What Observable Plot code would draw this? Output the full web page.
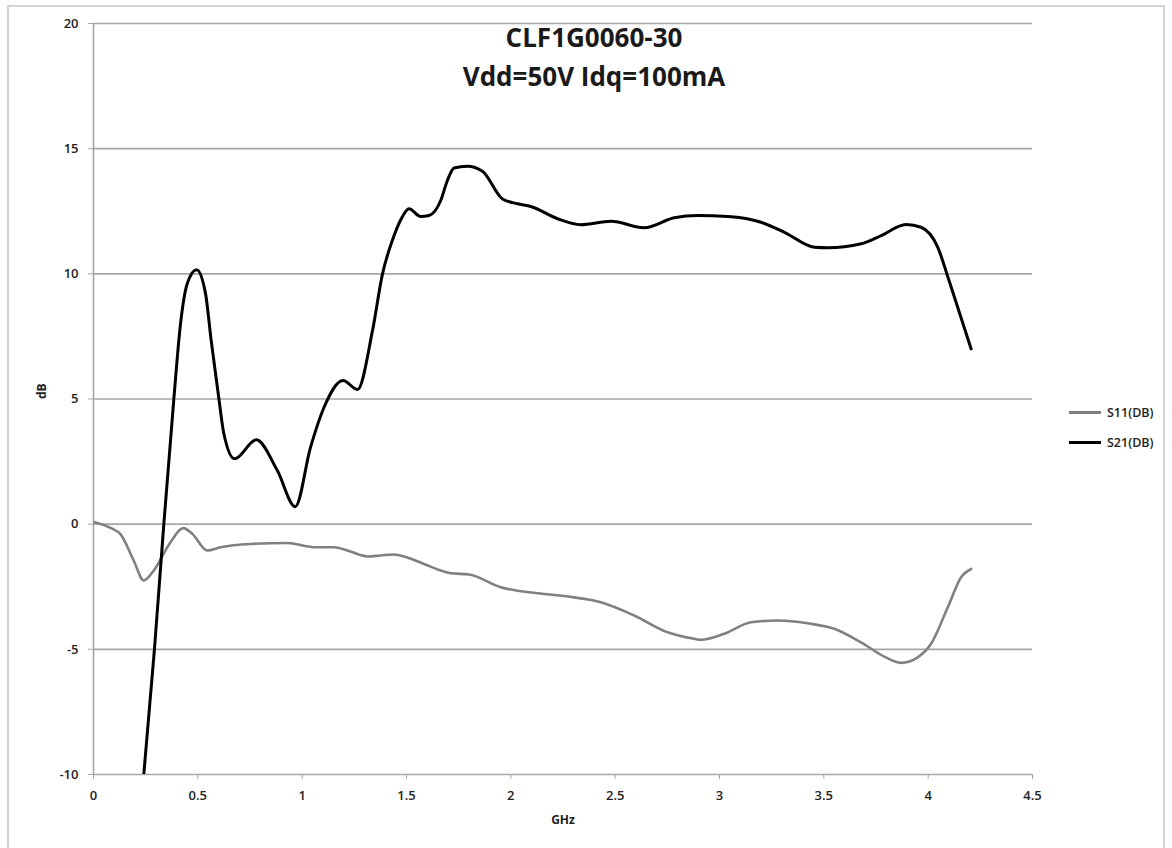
<!DOCTYPE html>
<html>
<head>
<meta charset="utf-8">
<script src="https://cdn.jsdelivr.net/npm/d3@7"></script>
<script src="https://cdn.jsdelivr.net/npm/@observablehq/plot@0.6"></script>
<style>
  html, body { margin: 0; padding: 0; background: #fff; }
  #wrap { position: relative; width: 1172px; height: 848px; overflow: hidden; font-family: "Open Sans", sans-serif; }
  #border { position: absolute; left: 7px; top: 5px; width: 1158px; height: 900px; border: 2px solid #d4d4d4; box-sizing: border-box; }
  #chart { position: absolute; left: 0; top: 0; }
  .title { position: absolute; left: 594px; transform: translateX(-50%); white-space: nowrap; font-weight: 700; font-size: 26px; color: #1a1a1a; }
  .leg { position: absolute; left: 1069px; font-size: 12.5px; font-weight: 600; color: #222; display: flex; align-items: center; }
  .leg span.sw { display: inline-block; width: 32px; margin-right: 6px; }
</style>
</head>
<body>
<div id="wrap">
  <div id="border"></div>
  <div id="chart"></div>
  <div class="title" style="top:19px">CLF1G0060-30</div>
  <div class="title" style="top:58px">Vdd=50V Idq=100mA</div>
  <div class="leg" style="top:404px"><span class="sw" style="border-top:3px solid #808080"></span>S11(DB)</div>
  <div class="leg" style="top:434px"><span class="sw" style="border-top:3px solid #000"></span>S21(DB)</div>
</div>
<script>
// S21(DB) series: frequency (GHz) and gain (dB)
const s21Freq = [0.241, 0.292, 0.337, 0.385, 0.417, 0.449, 0.494, 0.537, 0.564, 0.601, 0.625, 0.676, 0.78, 0.881, 0.967, 1.04, 1.105, 1.196, 1.265, 1.337, 1.385, 1.432, 1.475, 1.512, 1.568, 1.608, 1.664, 1.696, 1.728, 1.792, 1.864, 1.96, 2.032, 2.096, 2.224, 2.336, 2.48, 2.639, 2.783, 2.895, 3.04, 3.199, 3.311, 3.455, 3.519, 3.679, 3.775, 3.894, 3.966, 4.046, 4.10, 4.206];
const s21Val  = [-10, -5, 0, 5, 8.0, 9.6, 10.16, 9.2, 7.33, 5.0, 3.6, 2.61, 3.37, 2.14, 0.70, 3.07, 4.67, 5.74, 5.38, 7.73, 10.0, 11.33, 12.2, 12.60, 12.29, 12.33, 12.93, 13.73, 14.23, 14.30, 14.10, 12.99, 12.80, 12.69, 12.20, 11.96, 12.10, 11.84, 12.24, 12.33, 12.29, 12.06, 11.66, 11.06, 11.04, 11.20, 11.53, 11.97, 11.86, 11.06, 9.73, 7.00];

// S11(DB) series
const s11Freq = [0.006, 0.082, 0.13, 0.193, 0.241, 0.289, 0.369, 0.43, 0.473, 0.545, 0.609, 0.753, 0.929, 1.057, 1.153, 1.217, 1.313, 1.376, 1.44, 1.50, 1.584, 1.712, 1.80, 1.952, 2.128, 2.272, 2.432, 2.591, 2.751, 2.879, 2.911, 3.023, 3.151, 3.279, 3.423, 3.55, 3.678, 3.79, 3.87, 3.95, 4.014, 4.094, 4.158, 4.206];
const s11Val  = [0.08, -0.15, -0.41, -1.46, -2.25, -1.85, -0.72, -0.16, -0.38, -1.05, -0.92, -0.79, -0.75, -0.92, -0.92, -1.05, -1.29, -1.25, -1.21, -1.32, -1.59, -1.96, -2.01, -2.52, -2.76, -2.89, -3.12, -3.65, -4.32, -4.58, -4.62, -4.38, -3.92, -3.85, -3.96, -4.18, -4.72, -5.29, -5.54, -5.32, -4.78, -3.32, -2.12, -1.79];

// axes
const xTicks = [0, 0.5, 1, 1.5, 2, 2.5, 3, 3.5, 4, 4.5];
const yTicks = [-10, -5, 0, 5, 10, 15, 20];
const gridValues = [-5, 0, 5, 10, 15, 20];

const s21 = s21Freq.map((f, i) => ({f, v: s21Val[i]}));
const s11 = s11Freq.map((f, i) => ({f, v: s11Val[i]}));

const gridColor = "#a6a6a6";

const chart = Plot.plot({
  width: 1172,
  height: 848,
  marginLeft: 93,
  marginRight: 140,
  marginTop: 23,
  marginBottom: 74,
  style: {fontFamily: "Open Sans, sans-serif", fontSize: "13px", fontWeight: 600, color: "#222", background: "transparent"},
  x: {domain: [0, 4.5]},
  y: {domain: [-10, 20]},
  marks: [
    Plot.ruleY(gridValues, {stroke: gridColor, strokeWidth: 1.6}),
    Plot.ruleX([0], {stroke: gridColor, strokeWidth: 1.6}),
    Plot.ruleY([-10], {stroke: gridColor, strokeWidth: 1.6}),
    Plot.axisY({ticks: yTicks, tickSize: 5, tickPadding: 10, stroke: gridColor, label: null, tickFormat: d => String(d)}),
    Plot.axisX({ticks: xTicks, tickSize: 5, tickPadding: 11, stroke: gridColor, label: null, tickFormat: d => String(d)}),
    Plot.line(s11, {x: "f", y: "v", stroke: "#808080", strokeWidth: 2.6, curve: "monotone-x"}),
    Plot.line(s21, {x: "f", y: "v", stroke: "#000", strokeWidth: 3, curve: "monotone-x", clip: true}),
    Plot.text(["dB"], {frameAnchor: "left", dx: -51, rotate: -90, fontSize: 12, fontWeight: 700, fill: "#222"}),
    Plot.text(["GHz"], {frameAnchor: "bottom", dy: 49, fontSize: 12, fontWeight: 700, fill: "#222"})
  ]
});
document.getElementById("chart").appendChild(chart);
</script>
</body>
</html>
